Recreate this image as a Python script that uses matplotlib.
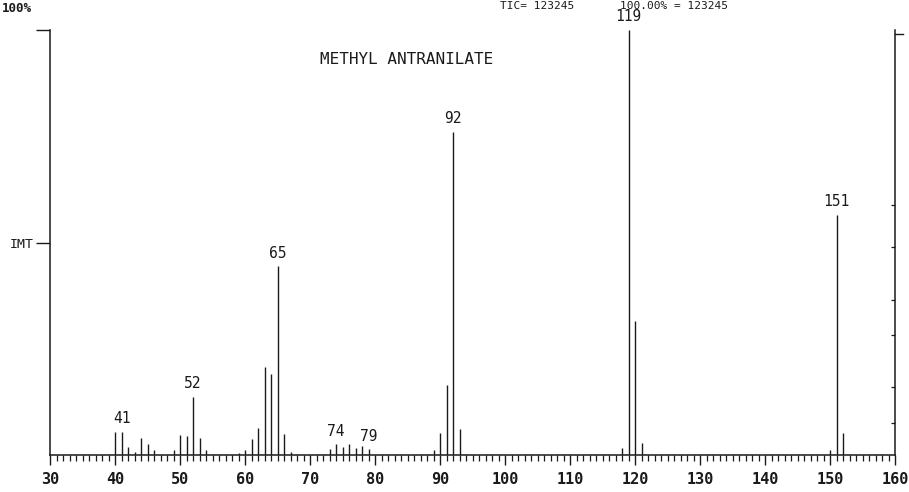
import matplotlib
matplotlib.use("Agg")
import matplotlib.pyplot as plt

# ---- data (m/z, relative intensity %) ----
mz = [40, 41, 42, 43, 44, 45, 46, 49, 50, 51, 52, 53, 54, 59, 60, 61, 62, 63, 64,
      65, 66, 67, 73, 74, 75, 76, 77, 78, 79, 89, 90, 91, 92, 93, 118, 119, 120,
      121, 150, 151, 152]
intensity = [5.4, 5.4, 1.9, 0.8, 4.0, 2.6, 1.2, 1.2, 4.7, 4.4, 13.7, 4.0, 1.2, 0.5,
             1.2, 3.8, 6.4, 20.6, 19.0, 44.4, 5.0, 0.6, 1.5, 2.5, 2.0, 2.5, 1.7,
             2.1, 1.3, 1.2, 5.1, 16.5, 76.0, 6.1, 1.6, 100.0, 31.5, 2.8, 1.2,
             56.5, 5.2]
labeled_mz = [41, 52, 65, 74, 79, 92, 119, 151]
xticks = list(range(30, 161, 10))
xticklabels = [str(v) for v in xticks]
title = "METHYL ANTRANILATE"

W, H = 909, 492
fig = plt.figure(figsize=(W / 100, H / 100), dpi=100)
fig.patch.set_facecolor("white")

x0, x1 = 50, 895
ybase, ytop = 455, 30
ax = fig.add_axes([x0 / W, (H - ybase) / H, (x1 - x0) / W, (ybase - ytop) / H])
ax.set_xlim(30, 160)
ax.set_ylim(0, 100)

mono = "DejaVu Sans Mono"
ink = "#1a1a1a"

ax.vlines(mz, 0, intensity, colors=ink, linewidth=1.0)

lab = dict(zip(mz, intensity))
for m in labeled_mz:
    ax.annotate(str(m), (m, lab[m]), xytext=(0, 4), textcoords="offset points",
                ha="center", va="bottom", fontsize=10.5, family=mono, color=ink)

ax.text(0.422, 0.93, title, transform=ax.transAxes, ha="center", va="center",
        fontsize=11.5, family=mono, color=ink)

# spines
for s in ["left", "right", "bottom"]:
    ax.spines[s].set_color(ink)
    ax.spines[s].set_linewidth(1.1)
ax.spines["top"].set_visible(False)

# x ticks
ax.set_xticks(xticks)
ax.set_xticklabels(xticklabels, family=mono, fontsize=11, fontweight="bold", color=ink)
ax.set_xticks(range(30, 161), minor=True)
ax.tick_params(axis="x", which="major", direction="out", length=7, width=1.0,
               pad=5, colors=ink)
ax.tick_params(axis="x", which="minor", direction="out", length=4, width=0.9,
               colors=ink)

# y ticks (left: IMT at 50, top at 100)
ax.set_yticks([50, 100])
ax.set_yticklabels(["IMT", ""], family=mono, fontsize=9.5, color=ink)
ax.tick_params(axis="y", which="major", direction="out", length=10, width=1.0,
               pad=2, colors=ink, left=True, right=False)

# right-axis inner ticks and top tick
axr = ax.twinx()
axr.set_ylim(0, 100)
axr.set_yticks([7.5, 16, 28.2, 36.5, 48.9, 58.8])
axr.set_yticklabels([])
axr.tick_params(axis="y", direction="in", length=3, width=0.9, colors=ink)
for s in axr.spines.values():
    s.set_visible(False)
ax.plot([160, 161.3], [99, 99], color=ink, lw=1.0, clip_on=False)

fig.text(2 / W, 1 - 8 / H, "100%", ha="left", va="center", fontsize=9,
         family=mono, fontweight="bold", color=ink)
fig.text(500 / W, 1 - 6 / H, "TIC= 123245", ha="left", va="center", fontsize=8,
         family=mono, color=ink)
fig.text(620 / W, 1 - 6 / H, "100.00% = 123245", ha="left", va="center",
         fontsize=8, family=mono, color=ink)

fig.savefig("out.png", dpi=100, facecolor="white")
